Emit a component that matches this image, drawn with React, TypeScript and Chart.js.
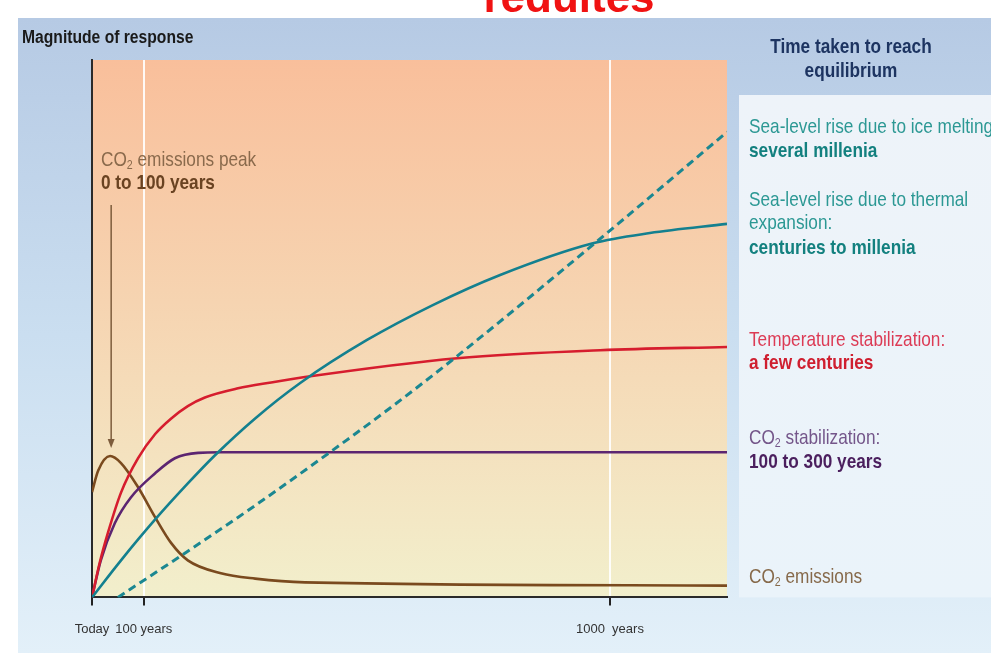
import React, { useEffect, useRef } from 'react';
import { Chart, registerables } from 'chart.js';

Chart.register(...registerables);

// ---------- data ----------
const X_MAX = 1226; // years shown on the time axis
const TICK_VALUES = [0, 100, 1000];
const TICK_LABELS = ['Today', '100 years', '1000  years'];

const ICE_YEARS = [50, 185, 315, 465, 575, 705, 967, 1226];
const ICE_VALUES = [0, 8.6, 17.1, 27.4, 35.2, 44.9, 65.6, 86.6];

const THERMAL_YEARS = [0, 56, 122, 185, 237, 315, 402, 531, 658, 788, 967, 1077, 1226];
const THERMAL_VALUES = [0, 6.9, 14.5, 21.2, 26.4, 33.3, 39.9, 47.9, 54.4, 60, 65.9, 67.8, 69.5];

const TEMP_YEARS = [0, 15, 31, 56, 89, 122, 153, 185, 218, 282, 346, 411, 705, 981, 1226];
const TEMP_VALUES = [0, 6.5, 12.1, 19.5, 25.9, 30.4, 33.3, 35.6, 37.2, 38.9, 40, 41, 44.5, 46, 46.6];

const CO2STAB_YEARS = [0, 17, 44, 75, 122, 160, 205, 249, 1226];
const CO2STAB_VALUES = [0, 6.9, 13.8, 18.6, 23.1, 25.9, 26.9, 27, 27];

const EMIS_YEARS = [0, 12, 35, 56, 89, 122, 153, 185, 249, 315, 411, 1226];
const EMIS_VALUES = [19.6, 23.6, 26.3, 25, 20.5, 14.9, 10.1, 6.9, 4.5, 3.5, 2.8, 2.2];

const PEAK_ARROW_YEAR = 37;
const PEAK_ARROW_FROM = 73;
const PEAK_ARROW_TO = 27.8;

const pts = (xs: number[], ys: number[]) => xs.map((x, i) => ({ x, y: ys[i] }));

// ---------- text helpers ----------
const SANS = "'Liberation Sans', Arial, sans-serif";
const SX = 0.82; // condensed look

type Part = [string, boolean?];

function partsWidth(ctx: CanvasRenderingContext2D, parts: Part[], size: number, bold: boolean) {
  let w = 0;
  for (const [t, sub] of parts) {
    ctx.font = `${bold ? 'bold ' : ''}${sub ? Math.round(size * 0.62) : size}px ${SANS}`;
    w += ctx.measureText(t).width;
  }
  return w;
}

function drawParts(
  ctx: CanvasRenderingContext2D,
  parts: Part[],
  x: number,
  y: number,
  size: number,
  bold: boolean,
  color: string,
  align: 'left' | 'center' = 'left',
  sx: number = SX
) {
  ctx.save();
  let startX = x;
  if (align === 'center') startX = x - (partsWidth(ctx, parts, size, bold) * sx) / 2;
  ctx.translate(startX, y);
  ctx.scale(sx, 1);
  ctx.fillStyle = color;
  ctx.textBaseline = 'middle';
  ctx.textAlign = 'left';
  let cx = 0;
  for (const [t, sub] of parts) {
    const s = sub ? Math.round(size * 0.62) : size;
    ctx.font = `${bold ? 'bold ' : ''}${s}px ${SANS}`;
    ctx.fillText(t, cx, sub ? size * 0.28 : 0);
    cx += ctx.measureText(t).width;
  }
  ctx.restore();
}

const decorPlugin = {
  id: 'decor',
  beforeDraw(chart: any) {
    const { ctx, chartArea: a, width, height } = chart;
    ctx.save();
    ctx.fillStyle = '#ffffff';
    ctx.fillRect(0, 0, width, height);
    // blue panel
    const g = ctx.createLinearGradient(0, 18, 0, height);
    g.addColorStop(0, '#b6cae4');
    g.addColorStop(0.5, '#cadef0');
    g.addColorStop(1, '#e3f0f9');
    ctx.fillStyle = g;
    ctx.fillRect(18, 18, width - 18, height - 18);
    // right panel
    const rp = ctx.createLinearGradient(0, 95, 0, a.bottom);
    rp.addColorStop(0, '#eef3f9');
    rp.addColorStop(1, '#eaf3fa');
    ctx.fillStyle = rp;
    ctx.fillRect(739, 95, width - 739, a.bottom - 95);
    // plot area
    const pg = ctx.createLinearGradient(0, a.top, 0, a.bottom);
    pg.addColorStop(0, '#f9bf9b');
    pg.addColorStop(0.45, '#f6d4b1');
    pg.addColorStop(1, '#f2efcc');
    ctx.fillStyle = pg;
    ctx.fillRect(a.left, a.top, a.right - a.left, a.bottom - a.top);
    // title fragment at the very top
    ctx.fillStyle = '#f01212';
    ctx.font = `bold 44px ${SANS}`;
    ctx.textAlign = 'center';
    ctx.textBaseline = 'alphabetic';
    ctx.fillText('reduites', 569, 12);
    ctx.restore();
  },
  afterDraw(chart: any) {
    const { ctx } = chart;
    const xs = chart.scales.x;
    const ys = chart.scales.y;
    drawParts(ctx, [['Magnitude of response']], 22, 38, 18, true, '#1a1a1a', 'left', 0.87);

    drawParts(ctx, [['Time taken to reach']], 851, 47, 21, true, '#1d3461', 'center');
    drawParts(ctx, [['equilibrium']], 851, 71, 21, true, '#1d3461', 'center');

    drawParts(ctx, [['Sea-level rise due to ice melting']], 749, 127, 21, false, '#2c9894');
    drawParts(ctx, [['several millenia']], 749, 151, 21, true, '#13807f');
    drawParts(ctx, [['Sea-level rise due to thermal']], 749, 200, 21, false, '#2c9894');
    drawParts(ctx, [['expansion:']], 749, 223, 21, false, '#2c9894');
    drawParts(ctx, [['centuries to millenia']], 749, 248, 21, true, '#13807f');

    drawParts(ctx, [['Temperature stabilization:']], 749, 340, 21, false, '#dc3b55');
    drawParts(ctx, [['a few centuries']], 749, 363, 21, true, '#cf1f30');

    drawParts(ctx, [['CO'], ['2', true], [' stabilization:']], 749, 438, 21, false, '#74568a');
    drawParts(ctx, [['100 to 300 years']], 749, 462, 21, true, '#4b1f5e');

    drawParts(ctx, [['CO'], ['2', true], [' emissions']], 749, 577, 21, false, '#86694a');

    drawParts(ctx, [['CO'], ['2', true], [' emissions peak']], 101, 160, 21, false, '#8a6a4c');
    drawParts(ctx, [['0 to 100 years']], 101, 183, 21, true, '#6a4322');

    // arrow
    const ax = xs.getPixelForValue(PEAK_ARROW_YEAR);
    const y1 = ys.getPixelForValue(PEAK_ARROW_FROM);
    const y2 = ys.getPixelForValue(PEAK_ARROW_TO);
    ctx.save();
    ctx.strokeStyle = '#7d5c3c';
    ctx.fillStyle = '#7d5c3c';
    ctx.lineWidth = 1.5;
    ctx.beginPath();
    ctx.moveTo(ax, y1);
    ctx.lineTo(ax, y2 - 6);
    ctx.stroke();
    ctx.beginPath();
    ctx.moveTo(ax, y2);
    ctx.lineTo(ax - 3.5, y2 - 9);
    ctx.lineTo(ax + 3.5, y2 - 9);
    ctx.closePath();
    ctx.fill();
    ctx.restore();
  },
};

export default function App() {
  const ref = useRef<HTMLCanvasElement | null>(null);
  useEffect(() => {
    if (!ref.current) return;
    const common = { pointRadius: 0, fill: false, cubicInterpolationMode: 'monotone' as const };
    const chart = new Chart(ref.current, {
      type: 'line',
      data: {
        datasets: [
          { ...common, label: 'Sea-level rise due to ice melting', data: pts(ICE_YEARS, ICE_VALUES), borderColor: '#1b8791', borderWidth: 3, borderDash: [8, 5] },
          { ...common, label: 'Sea-level rise due to thermal expansion', data: pts(THERMAL_YEARS, THERMAL_VALUES), borderColor: '#14808f', borderWidth: 2.6 },
          { ...common, label: 'Temperature stabilization', data: pts(TEMP_YEARS, TEMP_VALUES), borderColor: '#d61d2e', borderWidth: 2.6 },
          { ...common, label: 'CO2 stabilization', data: pts(CO2STAB_YEARS, CO2STAB_VALUES), borderColor: '#5c2571', borderWidth: 2.6 },
          { ...common, label: 'CO2 emissions', data: pts(EMIS_YEARS, EMIS_VALUES), borderColor: '#7a4a1e', borderWidth: 2.6 },
        ],
      },
      options: {
        responsive: false,
        animation: false,
        layout: { padding: { left: 92, right: 264, top: 60, bottom: 0 } },
        plugins: { legend: { display: false }, tooltip: { enabled: false }, title: { display: false } },
        scales: {
          x: {
            type: 'linear',
            min: 0,
            max: X_MAX,
            afterBuildTicks: (scale: any) => {
              scale.ticks = TICK_VALUES.map((v) => ({ value: v }));
            },
            ticks: {
              autoSkip: false,
              maxRotation: 0,
              padding: 16,
              color: '#333333',
              font: { family: SANS, size: 13 },
              callback: (v: any) => TICK_LABELS[TICK_VALUES.indexOf(Number(v))] ?? '',
            },
            grid: {
              color: (c: any) => (c.tick && c.tick.value === 0 ? 'rgba(0,0,0,0)' : 'rgba(255,255,255,0.9)'),
              lineWidth: 2,
              tickLength: 8,
              tickColor: '#222222',
              tickWidth: 2,
            },
            border: { display: true, color: '#2a2a2a', width: 2 },
          },
          y: {
            min: 0,
            max: 100,
            ticks: { display: false },
            grid: { display: false, drawTicks: false },
            border: { display: true, color: '#2a2a2a', width: 2 },
          },
        },
      },
      plugins: [decorPlugin],
    } as any);
    return () => chart.destroy();
  }, []);
  return (
    <div style={{ position: 'absolute', left: 0, top: 0, width: 991, height: 653 }}>
      <canvas ref={ref} width={991} height={653} style={{ display: 'block' }} />
    </div>
  );
}
